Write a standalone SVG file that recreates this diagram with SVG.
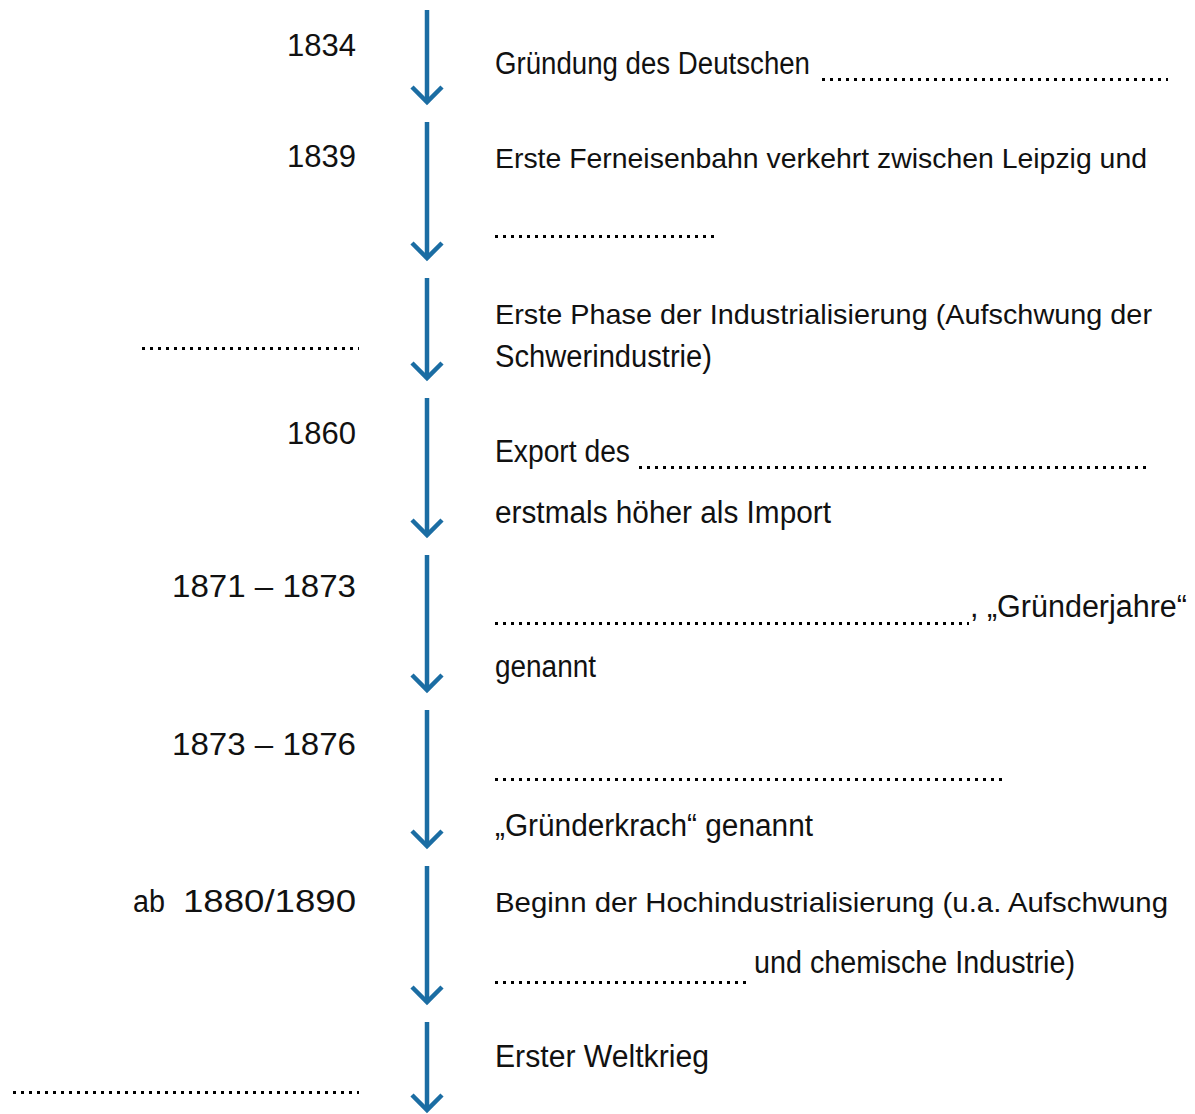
<svg xmlns="http://www.w3.org/2000/svg" width="1195" height="1114" viewBox="0 0 1195 1114">
<style>
  .t { font-family: "Liberation Sans", "DejaVu Sans", sans-serif; font-size: 31px; fill: #111; }
  .s { font-size: 28px; }
  .y { font-family: "Liberation Sans", "DejaVu Sans", sans-serif; font-size: 31px; fill: #111; text-anchor: end; }
  .dot { stroke: #000; stroke-width: 3; stroke-dasharray: 3 5; fill: none; }
  .arr { stroke: #1b6da3; stroke-width: 4.5; fill: none; marker-end: url(#chev); }
</style>
<defs>
  <marker id="chev" markerUnits="userSpaceOnUse" markerWidth="40" markerHeight="40" viewBox="-20 -20 40 40" refX="0" refY="0" orient="auto">
    <path d="M-15,-15 L0,0 L-15,15" stroke="#1b6da3" stroke-width="4.5" fill="none"/>
  </marker>
</defs>
<rect width="1195" height="1114" fill="#fff"/>
<g id="connectors">
  <path class="arr" d="M427,10 V102"/>
  <path class="arr" d="M427,122 V258"/>
  <path class="arr" d="M427,278 V378"/>
  <path class="arr" d="M427,398 V535"/>
  <path class="arr" d="M427,555 V690"/>
  <path class="arr" d="M427,710 V846"/>
  <path class="arr" d="M427,866 V1002"/>
  <path class="arr" d="M427,1022 V1110"/>
</g>
<g id="n1834">
  <text class="y" x="356" y="56">1834</text>
  <text class="t" x="495" y="74" textLength="315" lengthAdjust="spacingAndGlyphs">Gründung des Deutschen</text>
  <line class="dot" x1="822" y1="79.5" x2="1168" y2="79.5"/>
</g>
<g id="n1839">
  <text class="y" x="356" y="167">1839</text>
  <text class="t s" x="495" y="168" textLength="652" lengthAdjust="spacingAndGlyphs">Erste Ferneisenbahn verkehrt zwischen Leipzig und</text>
  <line class="dot" x1="495" y1="236.5" x2="714" y2="236.5"/>
</g>
<g id="nPhase">
  <line class="dot" x1="142" y1="348.5" x2="359" y2="348.5"/>
  <text class="t s" x="495" y="324" textLength="657" lengthAdjust="spacingAndGlyphs">Erste Phase der Industrialisierung (Aufschwung der</text>
  <text class="t" x="495" y="367" textLength="217" lengthAdjust="spacingAndGlyphs">Schwerindustrie)</text>
</g>
<g id="n1860">
  <text class="y" x="356" y="444">1860</text>
  <text class="t" x="495" y="462" textLength="135" lengthAdjust="spacingAndGlyphs">Export des</text>
  <line class="dot" x1="639" y1="467.5" x2="1146" y2="467.5"/>
  <text class="t" x="495" y="523" textLength="336" lengthAdjust="spacingAndGlyphs">erstmals höher als Import</text>
</g>
<g id="n1871">
  <text class="y" x="356" y="597" textLength="184" lengthAdjust="spacingAndGlyphs">1871 – 1873</text>
  <line class="dot" x1="495" y1="623.5" x2="969" y2="623.5"/>
  <text class="t" x="970" y="617" textLength="217" lengthAdjust="spacingAndGlyphs">, „Gründerjahre“</text>
  <text class="t" x="495" y="677" textLength="101" lengthAdjust="spacingAndGlyphs">genannt</text>
</g>
<g id="n1873">
  <text class="y" x="356" y="755" textLength="184" lengthAdjust="spacingAndGlyphs">1873 – 1876</text>
  <line class="dot" x1="495" y1="779.5" x2="1002" y2="779.5"/>
  <text class="t" x="495" y="836" textLength="318" lengthAdjust="spacingAndGlyphs">„Gründerkrach“ genannt</text>
</g>
<g id="n1880">
  <text class="t" x="133" y="912" textLength="32" lengthAdjust="spacingAndGlyphs">ab</text>
  <text class="y" x="356" y="912" textLength="173" lengthAdjust="spacingAndGlyphs">1880/1890</text>
  <text class="t s" x="495" y="912" textLength="673" lengthAdjust="spacingAndGlyphs">Beginn der Hochindustrialisierung (u.a. Aufschwung</text>
  <line class="dot" x1="495" y1="982.5" x2="746" y2="982.5"/>
  <text class="t" x="754" y="973" textLength="321" lengthAdjust="spacingAndGlyphs">und chemische Industrie)</text>
</g>
<g id="nWK">
  <line class="dot" x1="13" y1="1092.5" x2="359" y2="1092.5"/>
  <text class="t" x="495" y="1067" textLength="214" lengthAdjust="spacingAndGlyphs">Erster Weltkrieg</text>
</g>
</svg>
